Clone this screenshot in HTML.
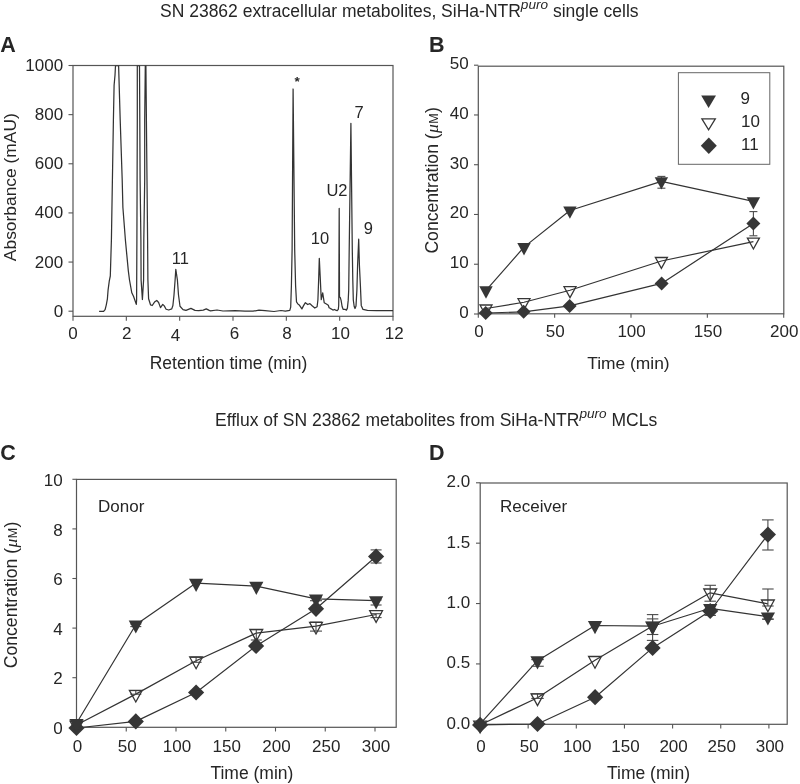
<!DOCTYPE html>
<html><head><meta charset="utf-8"><style>
html,body{margin:0;padding:0;background:#fff;}
svg{display:block;will-change:transform;}
text{font-family:"Liberation Sans", sans-serif;fill:#262626;}
</style></head><body>
<svg width="800" height="784" viewBox="0 0 800 784">
<defs><clipPath id="clipA"><rect x="73" y="65.5" width="320" height="251"/></clipPath></defs>
<rect width="800" height="784" fill="#fff"/>
<text x="160" y="16.9" font-size="17.5">SN 23862 extracellular metabolites, SiHa-NTR<tspan font-size="13.6" font-style="italic" dy="-8">puro</tspan><tspan dy="8"> single cells</tspan></text>
<text x="215" y="425.5" font-size="17.5">Efflux of SN 23862 metabolites from SiHa-NTR<tspan font-size="13.6" font-style="italic" dy="-8">puro</tspan><tspan dy="8"> MCLs</tspan></text>
<text x="0.30" y="51.60" font-size="21.5" text-anchor="start" font-weight="bold" >A</text>
<text x="429.00" y="51.60" font-size="21.5" text-anchor="start" font-weight="bold" >B</text>
<text x="0.20" y="460.20" font-size="21.5" text-anchor="start" font-weight="bold" >C</text>
<text x="429.00" y="459.90" font-size="21.5" text-anchor="start" font-weight="bold" >D</text>
<rect x="73.00" y="65.50" width="320.00" height="250.80" fill="none" stroke="#555555" stroke-width="1.2"/>
<line x1="68.50" y1="311.20" x2="73.00" y2="311.20" stroke="#555555" stroke-width="1.1"/>
<text x="63.20" y="316.70" font-size="17" text-anchor="end" font-weight="normal" >0</text>
<line x1="68.50" y1="262.06" x2="73.00" y2="262.06" stroke="#555555" stroke-width="1.1"/>
<text x="63.20" y="267.56" font-size="17" text-anchor="end" font-weight="normal" >200</text>
<line x1="68.50" y1="212.92" x2="73.00" y2="212.92" stroke="#555555" stroke-width="1.1"/>
<text x="63.20" y="218.42" font-size="17" text-anchor="end" font-weight="normal" >400</text>
<line x1="68.50" y1="163.78" x2="73.00" y2="163.78" stroke="#555555" stroke-width="1.1"/>
<text x="63.20" y="169.28" font-size="17" text-anchor="end" font-weight="normal" >600</text>
<line x1="68.50" y1="114.64" x2="73.00" y2="114.64" stroke="#555555" stroke-width="1.1"/>
<text x="63.20" y="120.14" font-size="17" text-anchor="end" font-weight="normal" >800</text>
<line x1="68.50" y1="65.50" x2="73.00" y2="65.50" stroke="#555555" stroke-width="1.1"/>
<text x="63.20" y="71.00" font-size="17" text-anchor="end" font-weight="normal" >1000</text>
<line x1="73.00" y1="316.30" x2="73.00" y2="320.80" stroke="#555555" stroke-width="1.1"/>
<text x="73.00" y="339.30" font-size="17" text-anchor="middle" font-weight="normal" >0</text>
<line x1="126.33" y1="316.30" x2="126.33" y2="320.80" stroke="#555555" stroke-width="1.1"/>
<text x="126.83" y="339.30" font-size="17" text-anchor="middle" font-weight="normal" >2</text>
<line x1="179.67" y1="316.30" x2="179.67" y2="320.80" stroke="#555555" stroke-width="1.1"/>
<text x="175.37" y="340.60" font-size="17" text-anchor="middle" font-weight="normal" >4</text>
<line x1="233.00" y1="316.30" x2="233.00" y2="320.80" stroke="#555555" stroke-width="1.1"/>
<text x="234.40" y="339.30" font-size="17" text-anchor="middle" font-weight="normal" >6</text>
<line x1="286.34" y1="316.30" x2="286.34" y2="320.80" stroke="#555555" stroke-width="1.1"/>
<text x="287.04" y="339.30" font-size="17" text-anchor="middle" font-weight="normal" >8</text>
<line x1="339.67" y1="316.30" x2="339.67" y2="320.80" stroke="#555555" stroke-width="1.1"/>
<text x="340.47" y="339.30" font-size="17" text-anchor="middle" font-weight="normal" >10</text>
<line x1="393.00" y1="316.30" x2="393.00" y2="320.80" stroke="#555555" stroke-width="1.1"/>
<text x="394.20" y="339.30" font-size="17" text-anchor="middle" font-weight="normal" >12</text>
<text x="228.50" y="369.10" font-size="17.5" text-anchor="middle" font-weight="normal" >Retention time (min)</text>
<text transform="translate(15.9,187.2) rotate(-90)" font-size="17.4" text-anchor="middle">Absorbance (mAU)</text>
<g clip-path="url(#clipA)">
<polyline points="99.10,311.40 103.60,311.40 105.10,309.60 106.30,304.80 107.40,298.80 108.10,289.80 109.30,280.80 110.30,276.00 111.40,240.00 112.40,180.00 113.40,120.00 114.10,85.20 115.00,75.30 115.50,65.50 118.60,65.50 120.20,120.00 122.20,180.00 122.90,207.50 125.40,240.00 128.30,270.60 129.50,280.00 131.80,292.80 133.60,296.50 136.30,304.40 136.60,300.00 136.90,240.00 137.30,120.00 137.30,65.50 139.50,65.50 139.80,120.00 140.10,180.00 140.90,240.00 141.10,280.00 142.40,299.50 143.60,280.00 143.80,240.00 144.70,180.00 144.70,120.00 145.30,65.50 145.90,65.50 146.40,120.00 147.00,180.00 147.60,240.00 147.90,280.00 148.60,298.80 150.50,304.80 152.25,305.50 154.50,302.10 156.75,300.40 158.60,302.50 160.50,307.60 162.75,304.40 164.25,305.90 166.10,309.25 168.75,310.00 171.75,308.90 172.90,305.50 174.00,295.00 175.10,280.00 175.80,269.30 177.40,280.00 178.50,295.00 180.00,306.25 183.00,309.60 186.00,310.40 190.90,308.40 195.00,310.40 198.75,310.60 203.25,310.10 206.25,308.90 209.25,310.40 210.50,310.80 217.00,310.00 223.00,311.00 235.00,310.70 245.00,311.20 253.00,311.20 259.00,310.20 265.00,310.70 274.00,311.50 281.00,310.50 285.40,311.20 289.80,310.30 290.70,307.10 291.40,285.70 292.10,250.00 293.10,89.00 294.70,250.00 295.60,285.70 296.50,301.80 297.90,304.00 299.20,304.90 301.90,308.90 303.70,305.40 305.40,302.70 307.70,304.50 309.90,303.60 312.10,305.80 314.80,308.00 317.10,306.70 317.90,300.00 318.60,281.25 319.30,258.30 320.20,276.80 321.25,299.60 322.70,292.90 324.20,302.70 326.40,304.00 328.30,305.30 329.10,307.80 330.10,308.30 331.40,309.10 332.90,310.10 334.40,309.50 335.70,310.10 337.20,310.60 338.30,309.30 338.70,305.50 338.80,297.50 339.20,208.40 339.50,297.00 340.30,297.60 341.10,300.40 342.10,306.50 343.10,309.30 344.90,309.30 346.40,310.10 347.40,308.10 348.20,300.40 348.70,290.20 349.20,250.00 350.90,123.30 352.30,250.00 352.80,280.00 353.30,300.00 354.20,306.50 355.00,308.50 356.00,306.00 356.90,290.00 357.60,265.00 358.70,239.20 359.40,265.00 360.40,285.70 361.25,305.40 363.00,309.40 367.50,310.30 376.40,310.70 390.00,310.70 393.00,310.60" fill="none" stroke="#333333" stroke-width="1.25" stroke-linejoin="round"/>
</g>
<text x="180.30" y="263.60" font-size="16.5" text-anchor="middle" font-weight="normal" >11</text>
<text x="297.20" y="85.90" font-size="13.5" text-anchor="middle" font-weight="bold" >*</text>
<text x="320.00" y="244.10" font-size="16.5" text-anchor="middle" font-weight="normal" >10</text>
<text x="337.00" y="196.30" font-size="16.5" text-anchor="middle" font-weight="normal" >U2</text>
<text x="359.10" y="117.60" font-size="16.5" text-anchor="middle" font-weight="normal" >7</text>
<text x="368.40" y="233.80" font-size="16.5" text-anchor="middle" font-weight="normal" >9</text>
<rect x="478.30" y="66.20" width="305.50" height="247.60" fill="none" stroke="#555555" stroke-width="1.2"/>
<line x1="474.00" y1="314.00" x2="478.30" y2="314.00" stroke="#555555" stroke-width="1.1"/>
<text x="468.60" y="317.80" font-size="17" text-anchor="end" font-weight="normal" >0</text>
<line x1="474.00" y1="264.24" x2="478.30" y2="264.24" stroke="#555555" stroke-width="1.1"/>
<text x="468.60" y="268.04" font-size="17" text-anchor="end" font-weight="normal" >10</text>
<line x1="474.00" y1="214.48" x2="478.30" y2="214.48" stroke="#555555" stroke-width="1.1"/>
<text x="468.60" y="218.28" font-size="17" text-anchor="end" font-weight="normal" >20</text>
<line x1="474.00" y1="164.72" x2="478.30" y2="164.72" stroke="#555555" stroke-width="1.1"/>
<text x="468.60" y="168.52" font-size="17" text-anchor="end" font-weight="normal" >30</text>
<line x1="474.00" y1="114.96" x2="478.30" y2="114.96" stroke="#555555" stroke-width="1.1"/>
<text x="468.60" y="118.76" font-size="17" text-anchor="end" font-weight="normal" >40</text>
<line x1="474.00" y1="65.20" x2="478.30" y2="65.20" stroke="#555555" stroke-width="1.1"/>
<text x="468.60" y="69.00" font-size="17" text-anchor="end" font-weight="normal" >50</text>
<line x1="478.30" y1="313.80" x2="478.30" y2="317.80" stroke="#555555" stroke-width="1.1"/>
<text x="478.90" y="336.50" font-size="17" text-anchor="middle" font-weight="normal" >0</text>
<line x1="554.65" y1="313.80" x2="554.65" y2="317.80" stroke="#555555" stroke-width="1.1"/>
<text x="555.25" y="336.50" font-size="17" text-anchor="middle" font-weight="normal" >50</text>
<line x1="631.00" y1="313.80" x2="631.00" y2="317.80" stroke="#555555" stroke-width="1.1"/>
<text x="631.60" y="336.50" font-size="17" text-anchor="middle" font-weight="normal" >100</text>
<line x1="707.35" y1="313.80" x2="707.35" y2="317.80" stroke="#555555" stroke-width="1.1"/>
<text x="707.95" y="336.50" font-size="17" text-anchor="middle" font-weight="normal" >150</text>
<line x1="783.70" y1="313.80" x2="783.70" y2="317.80" stroke="#555555" stroke-width="1.1"/>
<text x="784.30" y="336.50" font-size="17" text-anchor="middle" font-weight="normal" >200</text>
<text x="628.40" y="368.80" font-size="17.4" text-anchor="middle" font-weight="normal" >Time (min)</text>
<text transform="translate(438.4,253.6) rotate(-90)" font-size="17.6">Concentration (<tspan dx="0.3" font-family="Liberation Serif" font-style="italic" font-size="17.5">&#956;</tspan><tspan dx="0.5" font-size="12.5">M</tspan><tspan dx="0.3">)</tspan></text>
<polyline points="486.00,290.43 524.00,247.13 569.90,210.53 661.40,181.33 753.40,201.33" fill="none" stroke="#333333" stroke-width="1.2" stroke-linejoin="round"/>
<polyline points="486.00,308.53 524.00,302.23 570.00,290.23 661.40,261.03 753.40,241.63" fill="none" stroke="#333333" stroke-width="1.2" stroke-linejoin="round"/>
<polyline points="485.70,313.00 523.60,311.80 569.60,305.90 661.60,283.40 753.40,223.50" fill="none" stroke="#333333" stroke-width="1.2" stroke-linejoin="round"/>
<line x1="661.40" y1="176.40" x2="661.40" y2="188.20" stroke="#4a4a4a" stroke-width="1.1"/>
<line x1="657.40" y1="176.40" x2="665.40" y2="176.40" stroke="#4a4a4a" stroke-width="1.1"/>
<line x1="657.40" y1="188.20" x2="665.40" y2="188.20" stroke="#4a4a4a" stroke-width="1.1"/>
<line x1="753.40" y1="211.60" x2="753.40" y2="235.80" stroke="#4a4a4a" stroke-width="1.1"/>
<line x1="749.40" y1="211.60" x2="757.40" y2="211.60" stroke="#4a4a4a" stroke-width="1.1"/>
<line x1="749.40" y1="235.80" x2="757.40" y2="235.80" stroke="#4a4a4a" stroke-width="1.1"/>
<polygon points="485.70,306.00 492.70,313.00 485.70,320.00 478.70,313.00" fill="#363636"/>
<polygon points="523.60,304.80 530.60,311.80 523.60,318.80 516.60,311.80" fill="#363636"/>
<polygon points="569.60,298.90 576.60,305.90 569.60,312.90 562.60,305.90" fill="#363636"/>
<polygon points="661.60,276.40 668.60,283.40 661.60,290.40 654.60,283.40" fill="#363636"/>
<polygon points="753.40,216.50 760.40,223.50 753.40,230.50 746.40,223.50" fill="#363636"/>
<polygon points="480.00,305.00 492.00,305.00 486.00,315.90" fill="none" stroke="#363636" stroke-width="1.3" stroke-linejoin="miter"/>
<polygon points="518.00,298.70 530.00,298.70 524.00,309.60" fill="none" stroke="#363636" stroke-width="1.3" stroke-linejoin="miter"/>
<polygon points="564.00,286.70 576.00,286.70 570.00,297.60" fill="none" stroke="#363636" stroke-width="1.3" stroke-linejoin="miter"/>
<polygon points="655.40,257.50 667.40,257.50 661.40,268.40" fill="none" stroke="#363636" stroke-width="1.3" stroke-linejoin="miter"/>
<polygon points="747.40,238.10 759.40,238.10 753.40,249.00" fill="none" stroke="#363636" stroke-width="1.3" stroke-linejoin="miter"/>
<polygon points="479.30,286.30 492.70,286.30 486.00,298.70" fill="#363636"/>
<polygon points="517.30,243.00 530.70,243.00 524.00,255.40" fill="#363636"/>
<polygon points="563.20,206.40 576.60,206.40 569.90,218.80" fill="#363636"/>
<polygon points="654.70,177.20 668.10,177.20 661.40,189.60" fill="#363636"/>
<polygon points="746.70,197.20 760.10,197.20 753.40,209.60" fill="#363636"/>
<rect x="678.40" y="72.70" width="91.40" height="91.60" fill="none" stroke="#666" stroke-width="1.0"/>
<polygon points="701.20,95.50 716.00,95.50 708.60,108.00" fill="#363636"/>
<polygon points="701.90,118.85 715.30,118.85 708.6,129.85" fill="#fff" stroke="#363636" stroke-width="1.3"/>
<polygon points="708.80,137.45 716.80,145.70 708.80,153.95 700.80,145.70" fill="#363636"/>
<text x="740.40" y="103.60" font-size="17" text-anchor="start" font-weight="normal" >9</text>
<text x="741.00" y="127.10" font-size="17" text-anchor="start" font-weight="normal" >10</text>
<text x="741.00" y="149.50" font-size="17" text-anchor="start" font-weight="normal" >11</text>
<rect x="76.50" y="479.40" width="319.70" height="247.90" fill="none" stroke="#555555" stroke-width="1.2"/>
<line x1="72.40" y1="727.30" x2="76.50" y2="727.30" stroke="#555555" stroke-width="1.1"/>
<text x="62.60" y="733.90" font-size="17" text-anchor="end" font-weight="normal" >0</text>
<line x1="72.40" y1="677.70" x2="76.50" y2="677.70" stroke="#555555" stroke-width="1.1"/>
<text x="62.60" y="684.30" font-size="17" text-anchor="end" font-weight="normal" >2</text>
<line x1="72.40" y1="628.10" x2="76.50" y2="628.10" stroke="#555555" stroke-width="1.1"/>
<text x="62.60" y="634.70" font-size="17" text-anchor="end" font-weight="normal" >4</text>
<line x1="72.40" y1="578.50" x2="76.50" y2="578.50" stroke="#555555" stroke-width="1.1"/>
<text x="62.60" y="585.10" font-size="17" text-anchor="end" font-weight="normal" >6</text>
<line x1="72.40" y1="528.90" x2="76.50" y2="528.90" stroke="#555555" stroke-width="1.1"/>
<text x="62.60" y="535.50" font-size="17" text-anchor="end" font-weight="normal" >8</text>
<line x1="72.40" y1="479.30" x2="76.50" y2="479.30" stroke="#555555" stroke-width="1.1"/>
<text x="62.60" y="485.90" font-size="17" text-anchor="end" font-weight="normal" >10</text>
<line x1="76.50" y1="727.30" x2="76.50" y2="731.50" stroke="#555555" stroke-width="1.1"/>
<text x="77.50" y="751.50" font-size="17" text-anchor="middle" font-weight="normal" >0</text>
<line x1="126.25" y1="727.30" x2="126.25" y2="731.50" stroke="#555555" stroke-width="1.1"/>
<text x="127.25" y="751.50" font-size="17" text-anchor="middle" font-weight="normal" >50</text>
<line x1="176.00" y1="727.30" x2="176.00" y2="731.50" stroke="#555555" stroke-width="1.1"/>
<text x="177.00" y="751.50" font-size="17" text-anchor="middle" font-weight="normal" >100</text>
<line x1="225.75" y1="727.30" x2="225.75" y2="731.50" stroke="#555555" stroke-width="1.1"/>
<text x="226.75" y="751.50" font-size="17" text-anchor="middle" font-weight="normal" >150</text>
<line x1="275.50" y1="727.30" x2="275.50" y2="731.50" stroke="#555555" stroke-width="1.1"/>
<text x="276.50" y="751.50" font-size="17" text-anchor="middle" font-weight="normal" >200</text>
<line x1="325.25" y1="727.30" x2="325.25" y2="731.50" stroke="#555555" stroke-width="1.1"/>
<text x="326.25" y="751.50" font-size="17" text-anchor="middle" font-weight="normal" >250</text>
<line x1="375.00" y1="727.30" x2="375.00" y2="731.50" stroke="#555555" stroke-width="1.1"/>
<text x="376.00" y="751.50" font-size="17" text-anchor="middle" font-weight="normal" >300</text>
<text x="251.90" y="778.60" font-size="17.5" text-anchor="middle" font-weight="normal" >Time (min)</text>
<text transform="translate(16.9,668.2) rotate(-90)" font-size="17.6">Concentration (<tspan dx="0.3" font-family="Liberation Serif" font-style="italic" font-size="17.5">&#956;</tspan><tspan dx="0.5" font-size="12.5">M</tspan><tspan dx="0.3">)</tspan></text>
<text x="98.00" y="512.00" font-size="17" text-anchor="start" font-weight="normal" >Donor</text>
<polyline points="76.50,723.30 135.80,624.80 196.10,583.10 256.30,586.10 316.00,598.80 376.10,600.60" fill="none" stroke="#333333" stroke-width="1.2" stroke-linejoin="round"/>
<polyline points="76.50,725.00 135.80,694.10 196.10,660.80 256.30,633.10 316.00,626.10 376.10,614.50" fill="none" stroke="#333333" stroke-width="1.2" stroke-linejoin="round"/>
<polyline points="76.50,728.00 135.80,721.40 196.10,692.50 256.10,645.90 316.00,608.80 376.10,556.50" fill="none" stroke="#333333" stroke-width="1.2" stroke-linejoin="round"/>
<line x1="376.10" y1="549.90" x2="376.10" y2="563.00" stroke="#4a4a4a" stroke-width="1.1"/>
<line x1="370.60" y1="549.90" x2="381.60" y2="549.90" stroke="#4a4a4a" stroke-width="1.1"/>
<line x1="370.60" y1="563.00" x2="381.60" y2="563.00" stroke="#4a4a4a" stroke-width="1.1"/>
<line x1="316.00" y1="622.10" x2="316.00" y2="631.10" stroke="#4a4a4a" stroke-width="1.1"/>
<line x1="310.00" y1="622.10" x2="322.00" y2="622.10" stroke="#4a4a4a" stroke-width="1.1"/>
<line x1="310.00" y1="631.10" x2="322.00" y2="631.10" stroke="#4a4a4a" stroke-width="1.1"/>
<line x1="316.00" y1="597.00" x2="316.00" y2="600.70" stroke="#4a4a4a" stroke-width="1.1"/>
<line x1="310.00" y1="597.00" x2="322.00" y2="597.00" stroke="#4a4a4a" stroke-width="1.1"/>
<line x1="310.00" y1="600.70" x2="322.00" y2="600.70" stroke="#4a4a4a" stroke-width="1.1"/>
<line x1="376.10" y1="600.00" x2="376.10" y2="605.00" stroke="#4a4a4a" stroke-width="1.1"/>
<line x1="370.60" y1="600.00" x2="381.60" y2="600.00" stroke="#4a4a4a" stroke-width="1.1"/>
<line x1="370.60" y1="605.00" x2="381.60" y2="605.00" stroke="#4a4a4a" stroke-width="1.1"/>
<line x1="376.10" y1="613.70" x2="376.10" y2="617.60" stroke="#4a4a4a" stroke-width="1.1"/>
<line x1="370.60" y1="613.70" x2="381.60" y2="613.70" stroke="#4a4a4a" stroke-width="1.1"/>
<line x1="370.60" y1="617.60" x2="381.60" y2="617.60" stroke="#4a4a4a" stroke-width="1.1"/>
<line x1="135.80" y1="624.00" x2="135.80" y2="626.60" stroke="#4a4a4a" stroke-width="1.1"/>
<line x1="130.30" y1="624.00" x2="141.30" y2="624.00" stroke="#4a4a4a" stroke-width="1.1"/>
<line x1="130.30" y1="626.60" x2="141.30" y2="626.60" stroke="#4a4a4a" stroke-width="1.1"/>
<line x1="135.80" y1="690.60" x2="135.80" y2="694.20" stroke="#4a4a4a" stroke-width="1.1"/>
<line x1="130.30" y1="690.60" x2="141.30" y2="690.60" stroke="#4a4a4a" stroke-width="1.1"/>
<line x1="130.30" y1="694.20" x2="141.30" y2="694.20" stroke="#4a4a4a" stroke-width="1.1"/>
<line x1="196.10" y1="657.20" x2="196.10" y2="662.30" stroke="#4a4a4a" stroke-width="1.1"/>
<line x1="190.60" y1="657.20" x2="201.60" y2="657.20" stroke="#4a4a4a" stroke-width="1.1"/>
<line x1="190.60" y1="662.30" x2="201.60" y2="662.30" stroke="#4a4a4a" stroke-width="1.1"/>
<line x1="256.30" y1="629.80" x2="256.30" y2="640.00" stroke="#4a4a4a" stroke-width="1.1"/>
<line x1="250.80" y1="629.80" x2="261.80" y2="629.80" stroke="#4a4a4a" stroke-width="1.1"/>
<line x1="250.80" y1="640.00" x2="261.80" y2="640.00" stroke="#4a4a4a" stroke-width="1.1"/>
<polygon points="76.50,719.90 84.60,728.00 76.50,736.10 68.40,728.00" fill="#363636"/>
<polygon points="135.80,713.30 143.90,721.40 135.80,729.50 127.70,721.40" fill="#363636"/>
<polygon points="196.10,684.40 204.20,692.50 196.10,700.60 188.00,692.50" fill="#363636"/>
<polygon points="256.10,637.80 264.20,645.90 256.10,654.00 248.00,645.90" fill="#363636"/>
<polygon points="316.00,600.70 324.10,608.80 316.00,616.90 307.90,608.80" fill="#363636"/>
<polygon points="376.10,548.40 384.20,556.50 376.10,564.60 368.00,556.50" fill="#363636"/>
<polygon points="70.10,721.20 82.90,721.20 76.50,732.90" fill="none" stroke="#363636" stroke-width="1.3" stroke-linejoin="miter"/>
<polygon points="129.40,690.30 142.20,690.30 135.80,702.00" fill="none" stroke="#363636" stroke-width="1.3" stroke-linejoin="miter"/>
<polygon points="189.70,657.00 202.50,657.00 196.10,668.70" fill="none" stroke="#363636" stroke-width="1.3" stroke-linejoin="miter"/>
<polygon points="249.90,629.30 262.70,629.30 256.30,641.00" fill="none" stroke="#363636" stroke-width="1.3" stroke-linejoin="miter"/>
<polygon points="309.60,622.30 322.40,622.30 316.00,634.00" fill="none" stroke="#363636" stroke-width="1.3" stroke-linejoin="miter"/>
<polygon points="369.70,610.70 382.50,610.70 376.10,622.40" fill="none" stroke="#363636" stroke-width="1.3" stroke-linejoin="miter"/>
<polygon points="69.40,718.90 83.60,718.90 76.50,732.10" fill="#363636"/>
<polygon points="128.70,620.40 142.90,620.40 135.80,633.60" fill="#363636"/>
<polygon points="189.00,578.70 203.20,578.70 196.10,591.90" fill="#363636"/>
<polygon points="249.20,581.70 263.40,581.70 256.30,594.90" fill="#363636"/>
<polygon points="308.90,594.40 323.10,594.40 316.00,607.60" fill="#363636"/>
<polygon points="369.00,596.20 383.20,596.20 376.10,609.40" fill="#363636"/>
<rect x="480.20" y="483.00" width="307.00" height="241.30" fill="none" stroke="#555555" stroke-width="1.2"/>
<line x1="476.00" y1="724.30" x2="480.20" y2="724.30" stroke="#555555" stroke-width="1.1"/>
<text x="470.20" y="728.70" font-size="17" text-anchor="end" font-weight="normal" >0.0</text>
<line x1="476.00" y1="663.92" x2="480.20" y2="663.92" stroke="#555555" stroke-width="1.1"/>
<text x="470.20" y="668.32" font-size="17" text-anchor="end" font-weight="normal" >0.5</text>
<line x1="476.00" y1="603.55" x2="480.20" y2="603.55" stroke="#555555" stroke-width="1.1"/>
<text x="470.20" y="607.95" font-size="17" text-anchor="end" font-weight="normal" >1.0</text>
<line x1="476.00" y1="543.17" x2="480.20" y2="543.17" stroke="#555555" stroke-width="1.1"/>
<text x="470.20" y="547.57" font-size="17" text-anchor="end" font-weight="normal" >1.5</text>
<line x1="476.00" y1="482.80" x2="480.20" y2="482.80" stroke="#555555" stroke-width="1.1"/>
<text x="470.20" y="487.20" font-size="17" text-anchor="end" font-weight="normal" >2.0</text>
<line x1="480.00" y1="724.30" x2="480.00" y2="728.50" stroke="#555555" stroke-width="1.1"/>
<text x="481.00" y="751.60" font-size="17" text-anchor="middle" font-weight="normal" >0</text>
<line x1="528.15" y1="724.30" x2="528.15" y2="728.50" stroke="#555555" stroke-width="1.1"/>
<text x="529.15" y="751.60" font-size="17" text-anchor="middle" font-weight="normal" >50</text>
<line x1="576.30" y1="724.30" x2="576.30" y2="728.50" stroke="#555555" stroke-width="1.1"/>
<text x="577.30" y="751.60" font-size="17" text-anchor="middle" font-weight="normal" >100</text>
<line x1="624.45" y1="724.30" x2="624.45" y2="728.50" stroke="#555555" stroke-width="1.1"/>
<text x="625.45" y="751.60" font-size="17" text-anchor="middle" font-weight="normal" >150</text>
<line x1="672.60" y1="724.30" x2="672.60" y2="728.50" stroke="#555555" stroke-width="1.1"/>
<text x="673.60" y="751.60" font-size="17" text-anchor="middle" font-weight="normal" >200</text>
<line x1="720.75" y1="724.30" x2="720.75" y2="728.50" stroke="#555555" stroke-width="1.1"/>
<text x="721.75" y="751.60" font-size="17" text-anchor="middle" font-weight="normal" >250</text>
<line x1="768.90" y1="724.30" x2="768.90" y2="728.50" stroke="#555555" stroke-width="1.1"/>
<text x="769.90" y="751.60" font-size="17" text-anchor="middle" font-weight="normal" >300</text>
<text x="648.50" y="778.60" font-size="17.5" text-anchor="middle" font-weight="normal" >Time (min)</text>
<text x="500.00" y="512.00" font-size="17" text-anchor="start" font-weight="normal" >Receiver</text>
<polyline points="480.10,723.90 537.50,660.70 595.00,625.50 652.60,626.20 710.20,608.30 767.90,616.80" fill="none" stroke="#333333" stroke-width="1.2" stroke-linejoin="round"/>
<polyline points="480.10,725.00 537.50,697.70 595.00,660.30 652.60,626.00 710.20,592.80 767.90,603.80" fill="none" stroke="#333333" stroke-width="1.2" stroke-linejoin="round"/>
<polyline points="480.10,724.90 537.50,724.00 595.10,697.20 652.60,647.90 710.20,611.00 767.90,534.60" fill="none" stroke="#333333" stroke-width="1.2" stroke-linejoin="round"/>
<line x1="767.90" y1="519.90" x2="767.90" y2="550.00" stroke="#4a4a4a" stroke-width="1.1"/>
<line x1="762.15" y1="519.90" x2="773.65" y2="519.90" stroke="#4a4a4a" stroke-width="1.1"/>
<line x1="762.15" y1="550.00" x2="773.65" y2="550.00" stroke="#4a4a4a" stroke-width="1.1"/>
<line x1="537.50" y1="659.60" x2="537.50" y2="666.25" stroke="#4a4a4a" stroke-width="1.1"/>
<line x1="531.25" y1="659.60" x2="543.75" y2="659.60" stroke="#4a4a4a" stroke-width="1.1"/>
<line x1="531.25" y1="666.25" x2="543.75" y2="666.25" stroke="#4a4a4a" stroke-width="1.1"/>
<line x1="537.50" y1="693.90" x2="537.50" y2="698.40" stroke="#4a4a4a" stroke-width="1.1"/>
<line x1="531.25" y1="693.90" x2="543.75" y2="693.90" stroke="#4a4a4a" stroke-width="1.1"/>
<line x1="531.25" y1="698.40" x2="543.75" y2="698.40" stroke="#4a4a4a" stroke-width="1.1"/>
<line x1="767.90" y1="589.00" x2="767.90" y2="606.00" stroke="#4a4a4a" stroke-width="1.1"/>
<line x1="762.15" y1="589.00" x2="773.65" y2="589.00" stroke="#4a4a4a" stroke-width="1.1"/>
<line x1="762.15" y1="606.00" x2="773.65" y2="606.00" stroke="#4a4a4a" stroke-width="1.1"/>
<line x1="767.90" y1="619.00" x2="767.90" y2="619.30" stroke="#4a4a4a" stroke-width="1.1"/>
<line x1="762.15" y1="619.00" x2="773.65" y2="619.00" stroke="#4a4a4a" stroke-width="1.1"/>
<line x1="762.15" y1="619.30" x2="773.65" y2="619.30" stroke="#4a4a4a" stroke-width="1.1"/>
<line x1="710.20" y1="585.30" x2="710.20" y2="601.20" stroke="#4a4a4a" stroke-width="1.1"/>
<line x1="704.45" y1="585.30" x2="715.95" y2="585.30" stroke="#4a4a4a" stroke-width="1.1"/>
<line x1="704.45" y1="601.20" x2="715.95" y2="601.20" stroke="#4a4a4a" stroke-width="1.1"/>
<line x1="710.20" y1="605.10" x2="710.20" y2="615.40" stroke="#4a4a4a" stroke-width="1.1"/>
<line x1="704.45" y1="605.10" x2="715.95" y2="605.10" stroke="#4a4a4a" stroke-width="1.1"/>
<line x1="704.45" y1="615.40" x2="715.95" y2="615.40" stroke="#4a4a4a" stroke-width="1.1"/>
<line x1="652.60" y1="614.60" x2="652.60" y2="640.40" stroke="#4a4a4a" stroke-width="1.1"/>
<line x1="646.85" y1="614.60" x2="658.35" y2="614.60" stroke="#4a4a4a" stroke-width="1.1"/>
<line x1="646.85" y1="640.40" x2="658.35" y2="640.40" stroke="#4a4a4a" stroke-width="1.1"/>
<line x1="652.60" y1="618.90" x2="652.60" y2="634.50" stroke="#4a4a4a" stroke-width="1.1"/>
<line x1="646.85" y1="618.90" x2="658.35" y2="618.90" stroke="#4a4a4a" stroke-width="1.1"/>
<line x1="646.85" y1="634.50" x2="658.35" y2="634.50" stroke="#4a4a4a" stroke-width="1.1"/>
<polygon points="480.10,716.80 488.20,724.90 480.10,733.00 472.00,724.90" fill="#363636"/>
<polygon points="537.50,715.90 545.60,724.00 537.50,732.10 529.40,724.00" fill="#363636"/>
<polygon points="595.10,689.10 603.20,697.20 595.10,705.30 587.00,697.20" fill="#363636"/>
<polygon points="652.60,639.80 660.70,647.90 652.60,656.00 644.50,647.90" fill="#363636"/>
<polygon points="710.20,602.90 718.30,611.00 710.20,619.10 702.10,611.00" fill="#363636"/>
<polygon points="767.90,526.50 776.00,534.60 767.90,542.70 759.80,534.60" fill="#363636"/>
<polygon points="473.70,721.20 486.50,721.20 480.10,732.90" fill="none" stroke="#363636" stroke-width="1.3" stroke-linejoin="miter"/>
<polygon points="531.10,693.90 543.90,693.90 537.50,705.60" fill="none" stroke="#363636" stroke-width="1.3" stroke-linejoin="miter"/>
<polygon points="588.60,656.50 601.40,656.50 595.00,668.20" fill="none" stroke="#363636" stroke-width="1.3" stroke-linejoin="miter"/>
<polygon points="646.20,622.20 659.00,622.20 652.60,633.90" fill="none" stroke="#363636" stroke-width="1.3" stroke-linejoin="miter"/>
<polygon points="703.80,589.00 716.60,589.00 710.20,600.70" fill="none" stroke="#363636" stroke-width="1.3" stroke-linejoin="miter"/>
<polygon points="761.50,600.00 774.30,600.00 767.90,611.70" fill="none" stroke="#363636" stroke-width="1.3" stroke-linejoin="miter"/>
<polygon points="530.40,656.30 544.60,656.30 537.50,669.50" fill="#363636"/>
<polygon points="587.90,621.10 602.10,621.10 595.00,634.30" fill="#363636"/>
<polygon points="645.50,621.80 659.70,621.80 652.60,635.00" fill="#363636"/>
<polygon points="703.10,603.90 717.30,603.90 710.20,617.10" fill="#363636"/>
<polygon points="760.80,612.40 775.00,612.40 767.90,625.60" fill="#363636"/>
</svg></body></html>
